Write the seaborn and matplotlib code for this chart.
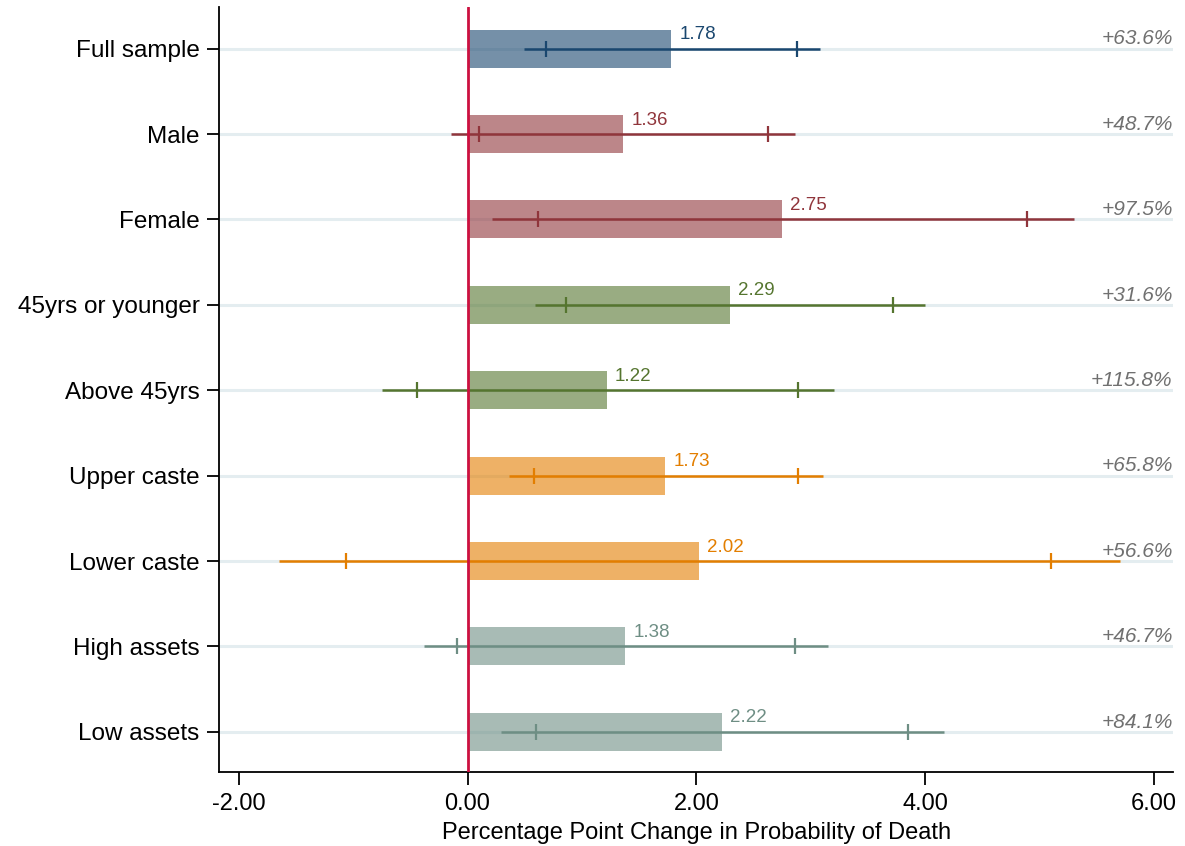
import matplotlib
matplotlib.use("Agg")
import matplotlib.pyplot as plt
import seaborn as sns
import pandas as pd

# Subgroup estimates (percentage points) with 95% and 90% confidence bounds
groups = ["Full sample", "Male", "Female", "45yrs or younger", "Above 45yrs",
          "Upper caste", "Lower caste", "High assets", "Low assets"]
effects = [1.78, 1.36, 2.75, 2.29, 1.22, 1.73, 2.02, 1.38, 2.22]
ci95_low = [0.49, -0.14, 0.21, 0.59, -0.75, 0.36, -1.65, -0.38, 0.29]
ci95_high = [3.08, 2.86, 5.30, 4.00, 3.20, 3.11, 5.70, 3.15, 4.16]
ci90_low = [0.69, 0.10, 0.62, 0.86, -0.44, 0.58, -1.06, -0.09, 0.60]
ci90_high = [2.88, 2.63, 4.89, 3.72, 2.89, 2.89, 5.10, 2.86, 3.85]
pct_change = ["+63.6%", "+48.7%", "+97.5%", "+31.6%", "+115.8%",
              "+65.8%", "+56.6%", "+46.7%", "+84.1%"]
x_ticks = [-2, 0, 2, 4, 6]
x_ticklabels = ["-2.00", "0.00", "2.00", "4.00", "6.00"]

# Stata s2color-like palette: navy, maroon, forest green, dark orange, teal
line_colors = ["#1a476f", "#90353b", "#90353b", "#55752f", "#55752f",
               "#e37e00", "#e37e00", "#6e8e84", "#6e8e84"]

sns.set_theme(style="white")
plt.rcParams["font.family"] = ["Liberation Sans", "DejaVu Sans"]

df = pd.DataFrame({"group": groups, "effect": effects})

fig, ax = plt.subplots(figsize=(11.85, 8.46), dpi=100)
fig.subplots_adjust(left=0.1848, right=0.990, bottom=0.0875, top=0.992)

xmin, xmax = -2.172, 6.167

# light row guides
for i in range(len(groups)):
    ax.plot([xmin, xmax], [i, i], color="#e4edf0", lw=2.2, zorder=0,
            solid_capstyle="butt")

sns.barplot(data=df, x="effect", y="group", hue="group", palette=line_colors,
            orient="h", width=0.445, alpha=0.6, legend=False, ax=ax,
            saturation=1, linewidth=0, zorder=2)

for i, g in enumerate(groups):
    c = line_colors[i]
    ax.plot([ci95_low[i], ci95_high[i]], [i, i], color=c, lw=1.8, zorder=3,
            solid_capstyle="butt")
    ax.plot([ci90_low[i], ci90_high[i]], [i, i], linestyle="none", marker="|",
            markersize=11, markeredgewidth=1.6, color=c, zorder=3)
    ax.text(effects[i] + 0.07, i - 0.11, f"{effects[i]:.2f}", color=c,
            fontsize=13.5, ha="left", va="baseline", zorder=4)
    ax.text(xmax - 0.005, i - 0.05, pct_change[i], color="#707070",
            fontsize=15, style="italic", ha="right", va="baseline", zorder=4)

ax.axvline(0, color="#cc1040", lw=2, zorder=5)

ax.set_xlim(xmin, xmax)
ax.set_ylim(len(groups) - 1 + 0.47, -0.49)
ax.set_xticks(x_ticks)
ax.set_xticklabels(x_ticklabels)
ax.set_xlabel("Percentage Point Change in Probability of Death", fontsize=17,
              labelpad=5, color="black")
ax.set_ylabel("")

ax.tick_params(axis="y", labelsize=17.5, length=8.5, width=1.3, direction="out",
               left=True, colors="black", pad=5.5)
ax.tick_params(axis="x", labelsize=17, length=9, width=1.3, direction="out",
               bottom=True, colors="black", pad=6)

for side in ["top", "right"]:
    ax.spines[side].set_visible(False)
for side in ["left", "bottom"]:
    ax.spines[side].set_color("black")
    ax.spines[side].set_linewidth(1.3)

fig.savefig("out.png", dpi=100, facecolor="white")
